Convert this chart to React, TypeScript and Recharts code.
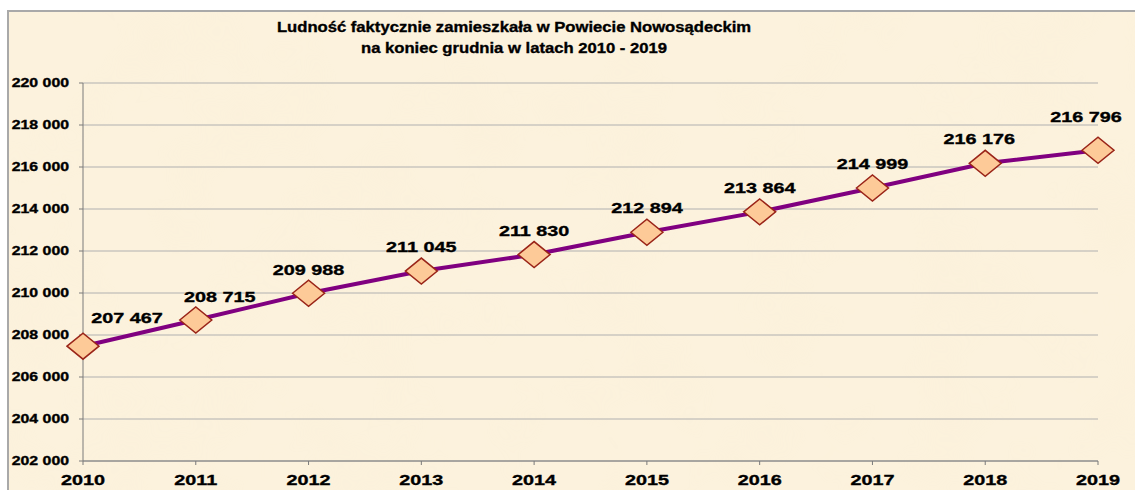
import { LineChart, Line, XAxis, YAxis, CartesianGrid, LabelList } from 'recharts';

const years = ['2010', '2011', '2012', '2013', '2014', '2015', '2016', '2017', '2018', '2019'];
const population = [207467, 208715, 209988, 211045, 211830, 212894, 213864, 214999, 216176, 216796];
const yTicks = [202000, 204000, 206000, 208000, 210000, 212000, 214000, 216000, 218000, 220000];

const titleLines = [
  'Ludność faktycznie zamieszkała w Powiecie Nowosądeckim',
  'na koniec grudnia w latach 2010 - 2019',
];

// label nudges (first/last points were moved by hand in the original)
const labelDx = [44, 24, 0, 0, 0, 0, 0, 0, -6, -12];
const labelDy = [-23, -18, -18, -19, -19, -19, -19, -19, -19, -28];

const FONT = '"Liberation Sans", Arial, sans-serif';
const STRETCH = 1.32;

const fmt = (v: number) => String(v).replace(/\B(?=(\d{3})+(?!\d))/g, ' ');

const data = years.map((year, i) => ({ year, population: population[i] }));

const textStyle = {
  fontFamily: FONT,
  fontWeight: 'bold' as const,
  fill: '#000',
  stroke: '#000',
  strokeWidth: 0.35,
};

const YTick = ({ x, y, payload }: any) => (
  <text transform={`translate(${x},${y + 4}) scale(${STRETCH},1)`} textAnchor="end" fontSize={12} {...textStyle}>
    {fmt(payload.value)}
  </text>
);

const XTick = ({ x, y, payload }: any) => (
  <text transform={`translate(${x},${y + 18}) scale(${STRETCH},1)`} textAnchor="middle" fontSize={15} {...textStyle}>
    {payload.value}
  </text>
);

const Diamond = ({ cx, cy }: any) => (
  <polygon
    points={`${cx - 16},${cy} ${cx},${cy - 13} ${cx + 16},${cy} ${cx},${cy + 13}`}
    fill="#fdca98"
    stroke="#9a2418"
    strokeWidth={1.5}
  />
);

const ValueLabel = ({ x, y, value, index }: any) => (
  <text
    transform={`translate(${x + labelDx[index]},${y + labelDy[index]}) scale(${STRETCH},1)`}
    textAnchor="middle"
    fontSize={15}
    {...textStyle}
  >
    {fmt(value)}
  </text>
);

export default function App() {
  return (
    <div style={{ position: 'absolute', left: 0, top: 0, width: 1135, height: 490, background: '#fff', overflow: 'hidden' }}>
      <div
        style={{
          position: 'absolute',
          left: 7,
          top: 10,
          width: 1140,
          height: 490,
          borderTop: '2px solid #a9a9a9',
          borderLeft: '2px solid #a9a9a9',
          background: '#fcf2dd',
        }}
      />
      <svg width={1135} height={490} style={{ position: 'absolute', left: 0, top: 0 }}>
        <defs>
          <filter id="paper" x="0" y="0" width="100%" height="100%">
            <feTurbulence type="fractalNoise" baseFrequency="0.012" numOctaves={3} seed={4} />
            <feColorMatrix
              type="matrix"
              values="0 0 0 0 0.93  0 0 0 0 0.82  0 0 0 0 0.62  0 0 0 1.1 -0.45"
            />
          </filter>
        </defs>
        <rect x={9} y={12} width={1130} height={480} filter="url(#paper)" opacity={0.22} />
        {titleLines.map((t, i) => (
          <text
            key={t}
            transform={`translate(514,${32 + i * 21}) scale(1.11,1)`}
            textAnchor="middle"
            fontSize={15}
            {...textStyle}
          >
            {t}
          </text>
        ))}
      </svg>
      <div style={{ position: 'absolute', left: 0, top: 0 }}>
        <LineChart
          width={1135}
          height={490}
          data={data}
          margin={{ top: 83, right: 37, left: 7, bottom: 0 }}
        >
          <CartesianGrid vertical={false} stroke="#b0b0b0" strokeWidth={1} />
          <XAxis
            dataKey="year"
            height={29}
            stroke="#7a7a7a"
            tickSize={4}
            tickMargin={2}
            tick={<XTick />}
            interval={0}
          />
          <YAxis
            width={76}
            domain={[202000, 220000]}
            ticks={yTicks}
            interval={0}
            stroke="#7a7a7a"
            tickSize={4}
            tickMargin={10}
            tick={<YTick />}
            allowDataOverflow
          />
          <Line
            type="linear"
            dataKey="population"
            stroke="#800080"
            strokeWidth={4}
            dot={<Diamond />}
            activeDot={false}
            isAnimationActive={false}
          >
            <LabelList dataKey="population" content={<ValueLabel />} />
          </Line>
        </LineChart>
      </div>
    </div>
  );
}
